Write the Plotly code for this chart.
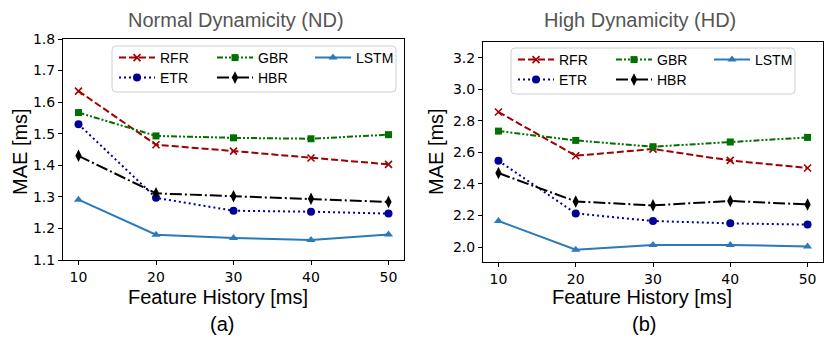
import plotly.graph_objects as go

W, H = 830, 341

history = [10, 20, 30, 40, 50]

# Normal Dynamicity (ND)
nd_rfr = [1.635, 1.465, 1.445, 1.423, 1.403]
nd_etr = [1.530, 1.297, 1.256, 1.253, 1.247]
nd_gbr = [1.567, 1.493, 1.487, 1.484, 1.497]
nd_hbr = [1.430, 1.311, 1.302, 1.294, 1.284]
nd_lstm = [1.291, 1.180, 1.170, 1.163, 1.181]

# High Dynamicity (HD)
hd_rfr = [2.856, 2.579, 2.621, 2.549, 2.501]
hd_etr = [2.547, 2.213, 2.165, 2.150, 2.142]
hd_gbr = [2.735, 2.676, 2.636, 2.666, 2.695]
hd_hbr = [2.469, 2.289, 2.264, 2.292, 2.270]
hd_lstm = [2.165, 1.983, 2.013, 2.013, 2.004]

nd_ticks = [1.1, 1.2, 1.3, 1.4, 1.5, 1.6, 1.7, 1.8]
hd_ticks = [2.0, 2.2, 2.4, 2.6, 2.8, 3.0, 3.2]

STYLES = {
    "RFR": dict(color="#a00000", dash="7px,3px", symbol="x-thin", size=7),
    "ETR": dict(color="#000099", dash="2px,3px", symbol="circle", size=8),
    "GBR": dict(color="#007000", dash="6px,2px,2px,2px,2px,2px", symbol="square", size=7),
    "HBR": dict(color="#000000", dash="12px,3px,2px,3px", symbol="diamond-tall", size=9),
    "LSTM": dict(color="#2a7ab9", dash="solid", symbol="triangle-up", size=8),
}


def px_x(p):
    return p / W


def px_y(p):
    return 1 - p / H


fig = go.Figure()


def add_series(name, y, xa, ya, legend):
    s = STYLES[name]
    mline = dict(width=1.6, color=s["color"]) if s["symbol"] == "x-thin" else dict(width=0)
    fig.add_trace(go.Scatter(
        x=history, y=y, name=name, mode="lines+markers",
        xaxis=xa, yaxis=ya, legend=legend,
        line=dict(color=s["color"], width=2, dash=s["dash"]),
        marker=dict(symbol=s["symbol"], size=s["size"], color=s["color"], line=mline),
    ))


# legend rows: RFR, GBR, LSTM / ETR, HBR
add_series("RFR", nd_rfr, "x", "y", "legend")
add_series("GBR", nd_gbr, "x", "y", "legend")
add_series("LSTM", nd_lstm, "x", "y", "legend")
add_series("ETR", nd_etr, "x", "y", "legend2")
add_series("HBR", nd_hbr, "x", "y", "legend2")

add_series("RFR", hd_rfr, "x2", "y2", "legend3")
add_series("GBR", hd_gbr, "x2", "y2", "legend3")
add_series("LSTM", hd_lstm, "x2", "y2", "legend3")
add_series("ETR", hd_etr, "x2", "y2", "legend4")
add_series("HBR", hd_hbr, "x2", "y2", "legend4")

tickfont = dict(family="DejaVu Sans", size=14, color="#000")
axis_common = dict(
    showline=True, mirror=True, linecolor="#000", linewidth=1,
    ticks="outside", ticklen=4, tickcolor="#000", showgrid=False,
    zeroline=False, tickfont=tickfont, automargin=False,
)

legend_common = dict(
    orientation="h", bgcolor="rgba(0,0,0,0)", borderwidth=0,
    font=dict(family="Liberation Sans", size=14, color="#000"),
    entrywidth=47, entrywidthmode="pixels", itemwidth=36,
    xanchor="left", yanchor="middle", tracegroupgap=0,
)


def rounded_box(x0, y0, x1, y1, r=4):
    X = lambda v: px_x(v)
    Y = lambda v: px_y(v)
    return (f"M {X(x0 + r)},{Y(y0)} L {X(x1 - r)},{Y(y0)} Q {X(x1)},{Y(y0)} {X(x1)},{Y(y0 + r)} "
            f"L {X(x1)},{Y(y1 - r)} Q {X(x1)},{Y(y1)} {X(x1 - r)},{Y(y1)} "
            f"L {X(x0 + r)},{Y(y1)} Q {X(x0)},{Y(y1)} {X(x0)},{Y(y1 - r)} "
            f"L {X(x0)},{Y(y0 + r)} Q {X(x0)},{Y(y0)} {X(x0 + r)},{Y(y0)} Z")


fig.update_layout(
    width=W, height=H,
    margin=dict(l=0, r=0, t=0, b=0, pad=0, autoexpand=False),
    paper_bgcolor="white", plot_bgcolor="white",
    showlegend=True,
    xaxis=dict(domain=[px_x(63), px_x(404)], range=[8, 52], tickvals=history,
               anchor="y", **axis_common),
    yaxis=dict(domain=[px_y(260), px_y(39)], range=[1.1, 1.8], tickvals=nd_ticks,
               tickformat=".1f", anchor="x", **axis_common),
    xaxis2=dict(domain=[px_x(483), px_x(823)], range=[8, 52], tickvals=history,
                anchor="y2", **axis_common),
    yaxis2=dict(domain=[px_y(262), px_y(42)], range=[1.905, 3.3], tickvals=hd_ticks,
                tickformat=".1f", anchor="x2", **axis_common),
    legend=dict(x=px_x(114), y=px_y(58), **legend_common),
    legend2=dict(x=px_x(114), y=px_y(78), **legend_common),
    legend3=dict(x=px_x(513), y=px_y(60), **legend_common),
    legend4=dict(x=px_x(513), y=px_y(80), **legend_common),
    shapes=[
        dict(type="path", xref="paper", yref="paper", path=rounded_box(112, 46, 396, 92),
             line=dict(color="#d0d0d0", width=1), fillcolor="rgba(255,255,255,0.8)", layer="below"),
        dict(type="path", xref="paper", yref="paper", path=rounded_box(511, 48, 795, 94),
             line=dict(color="#d0d0d0", width=1), fillcolor="rgba(255,255,255,0.8)", layer="below"),
    ],
)

title_font = dict(family="Liberation Sans", size=20, color="#555555")
label_font = dict(family="Liberation Sans", size=20, color="#000")
annots = [
    ("Normal Dynamicity (ND)", 236, 20, title_font, 0),
    ("High Dynamicity (HD)", 640, 20, title_font, 0),
    ("Feature History [ms]", 218, 297, label_font, 0),
    ("Feature History [ms]", 642, 297, label_font, 0),
    ("MAE [ms]", 20, 152, label_font, -90),
    ("MAE [ms]", 436, 152, label_font, -90),
    ("(a)", 222, 324, label_font, 0),
    ("(b)", 644, 324, label_font, 0),
]
for text, x, y, font, ang in annots:
    fig.add_annotation(text=text, x=px_x(x), y=px_y(y), xref="paper", yref="paper",
                       showarrow=False, font=font, textangle=ang,
                       xanchor="center", yanchor="middle")

# the page body has a default 8px margin; drop it so the figure sits at (0, 0)
fig.write_html("out.html", config={"displayModeBar": False},
               post_script="document.body.style.margin = '0px';")
